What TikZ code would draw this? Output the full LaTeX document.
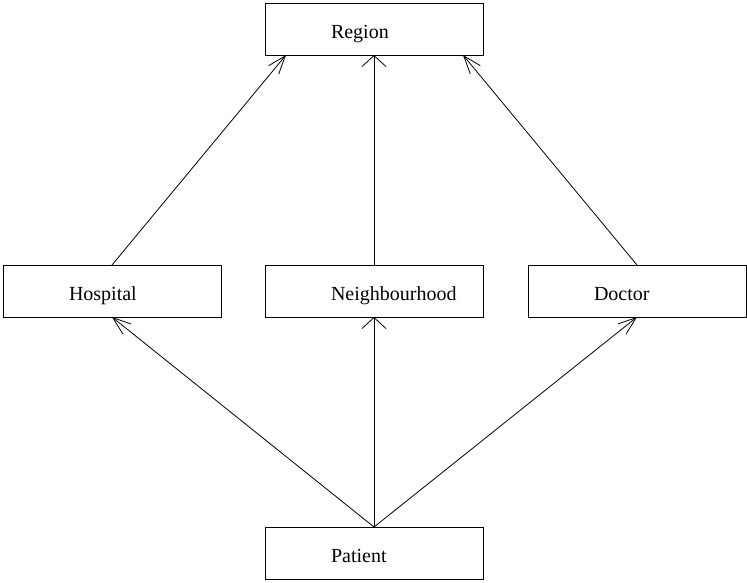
\documentclass[tikz,border=0pt]{standalone}
\usepackage{fontspec}
\setmainfont{Liberation Serif}
\usetikzlibrary{arrows.meta}
\begin{document}
\begin{tikzpicture}[x=1pt,y=1pt,
  box/.style={draw, line width=0.8pt, rectangle, minimum height=52pt, inner xsep=66pt, inner ysep=0pt,
    outer sep=0pt, text width=86pt, align=left, text height=18pt, text depth=0pt,
    font=\fontsize{20}{24}\selectfont},
  arrv/.style={line width=0.8pt, -{Straight Barb[length=11pt,width=24pt]}},
  arrd/.style={line width=0.8pt, -{Straight Barb[length=18pt,width=13pt]}}]
\useasboundingbox (0,0) rectangle (747,-582);
\node[box] (reg) at (374,-29) {Region};
\node[box] (hosp) at (112,-291) {Hospital};
\node[box] (neigh) at (374,-291) {Neighbourhood};
\node[box] (doc) at (637,-291) {Doctor};
\node[box] (pat) at (374,-553) {Patient};
\draw[arrd] (hosp.north) -- ([xshift=-88pt]reg.south);
\draw[arrv] (neigh.north) -- (reg.south);
\draw[arrd] (doc.north) -- ([xshift=89pt]reg.south);
\draw[arrd] (pat.north) -- (hosp.south);
\draw[arrv] (pat.north) -- (neigh.south);
\draw[arrd] (pat.north) -- (doc.south);
\end{tikzpicture}
\end{document}
